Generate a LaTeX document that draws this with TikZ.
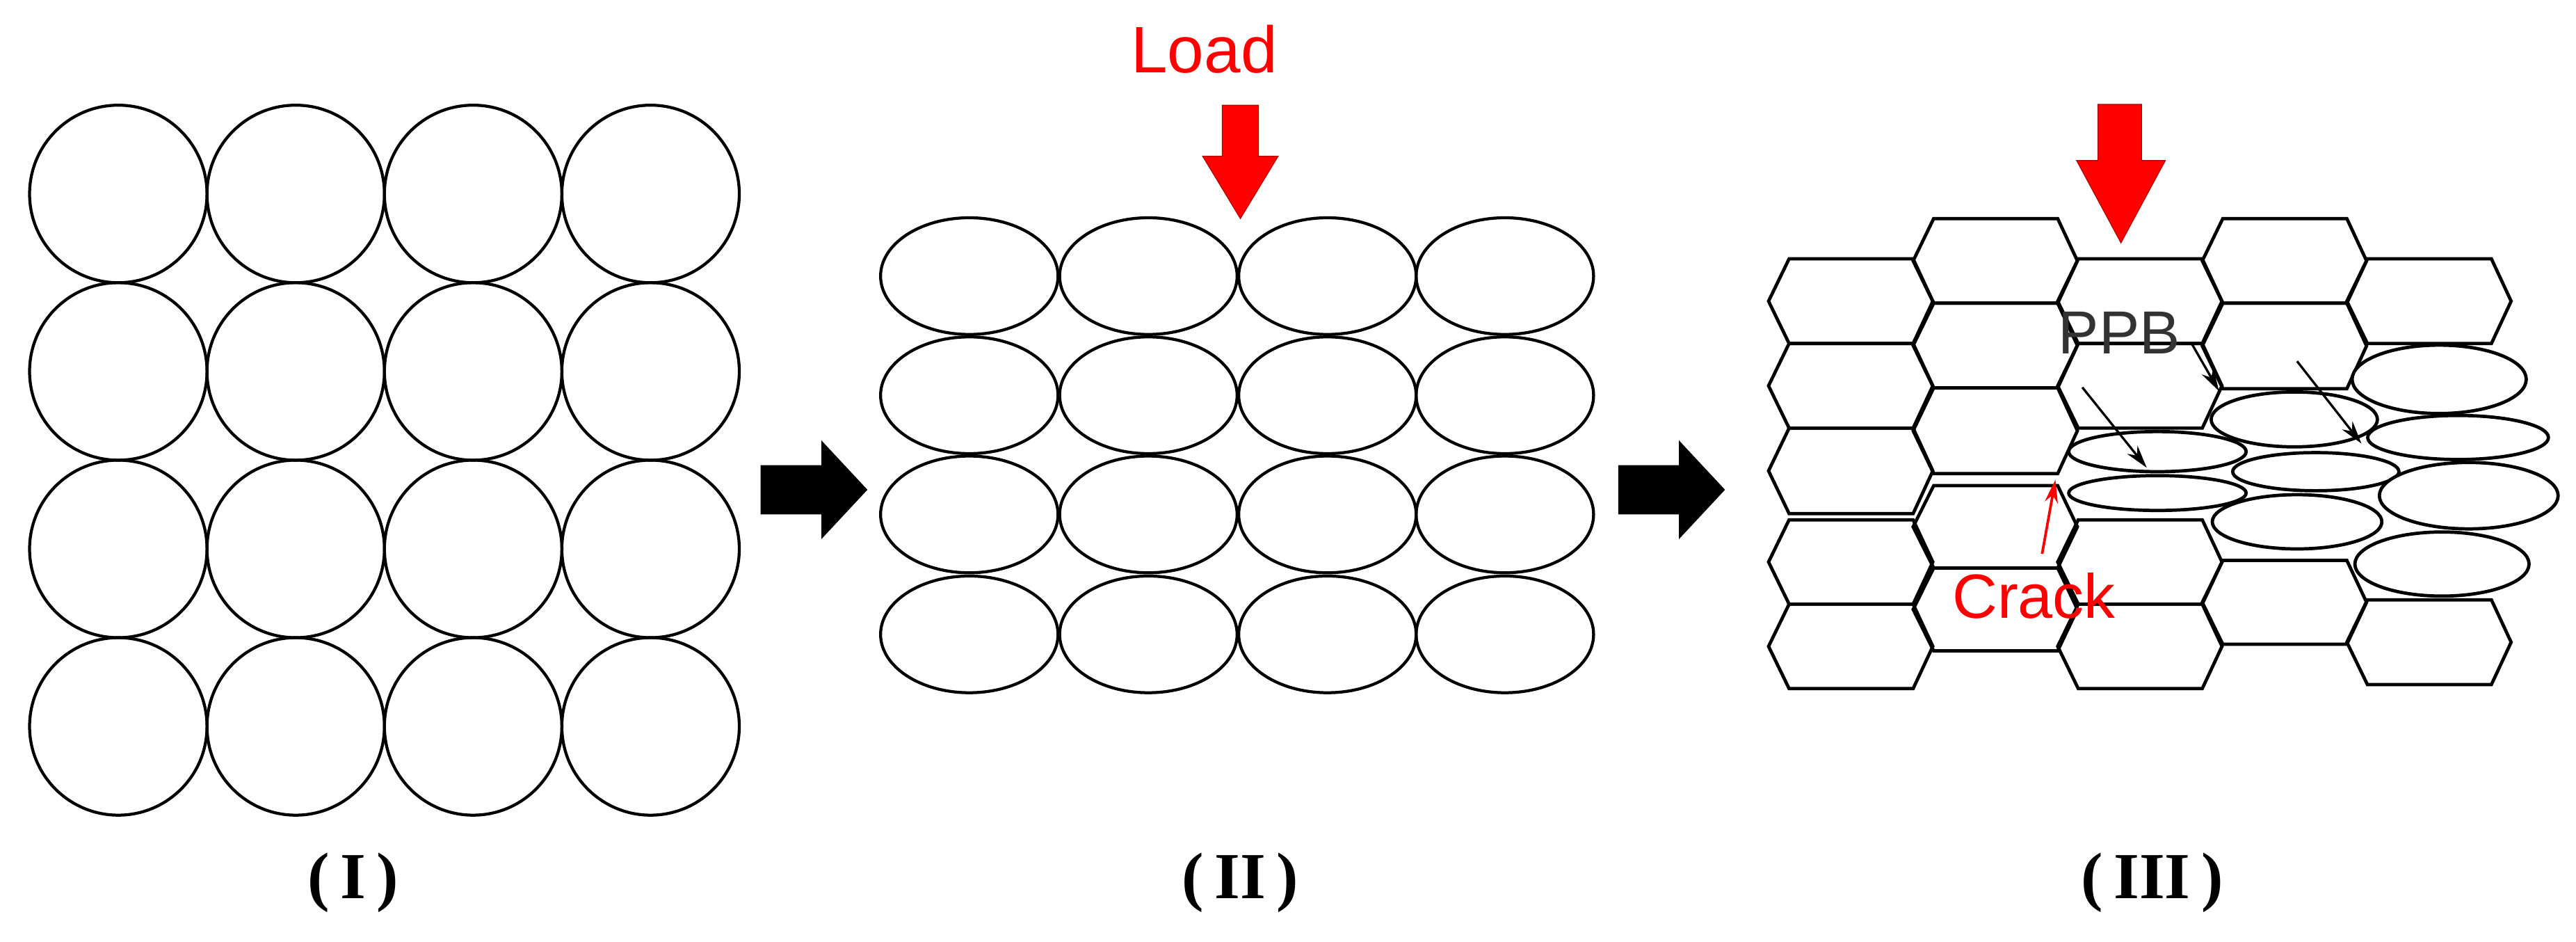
\documentclass[tikz,border=0pt]{standalone}
\usepackage{fontspec}
\setmainfont{Liberation Sans}
\newfontfamily\serifnum{Liberation Serif}
\usetikzlibrary{arrows.meta}
\newcommand\hexcell[3]{%
  \pgfmathsetmacro\xl{1076.5+88*(#1-1)}%
  \pgfmathsetmacro\ym{(#2+#3)/2}%
  \draw[hexline] (\xl+12.5,#2)--(\xl+88,#2)--(\xl+100,\ym)--(\xl+88,#3)--(\xl+12.5,#3)--(\xl,\ym)--cycle;}
\tikzset{
  cell/.style={line width=1.8pt},
  hexline/.style={line width=2pt, line join=miter},
  ell/.style={line width=2pt, fill=white},
  loadarrow/.style={fill=red, draw=red!70!black, line width=0.5pt},
  steparrow/.style={fill=black},
  ptr/.style={line width=1.4pt, -{Stealth[length=14pt,width=8pt]}},
  lbl/.style={font=\serifnum\fontsize{40}{44}\selectfont\bfseries}
}
\begin{document}
\begin{tikzpicture}[x=1pt,y=-1pt]
\useasboundingbox (0,0) rectangle (1568,573);
% Panel I
\foreach \cx in {72,180,288,396}
  \foreach \cy in {118,226,334,442}
    \draw[cell] (\cx,\cy) circle[radius=54];
% Panel II
\foreach \cx in {590,699,808,916}
  \foreach \cy in {168,240.5,313,386}
    \draw[cell] (\cx,\cy) ellipse[x radius=54,y radius=35.5];
% Load arrow II
\draw[loadarrow] (744,64)--(766,64)--(766,95)--(778,95)--(755,133)--(732,95)--(744,95)--cycle;
\node[text=red, font=\fontsize{40}{44}\selectfont] (load) at (733,30) {Load};
% step arrows
\fill[steparrow] (463,283)--(500,283)--(500,268)--(528,298)--(500,328)--(500,313)--(463,313)--cycle;
\fill[steparrow] (985,283)--(1022,283)--(1022,268)--(1050,298)--(1022,328)--(1022,313)--(985,313)--cycle;
% Panel III hexagons
\hexcell{1}{157.5}{209}\hexcell{1}{209}{260.5}\hexcell{1}{260.5}{312.5}\hexcell{1}{316.3}{367.6}\hexcell{1}{367.6}{419}
\hexcell{2}{133}{184.5}\hexcell{2}{184.5}{236}\hexcell{2}{236}{288.2}\hexcell{2}{295.5}{345.6}\hexcell{2}{345.6}{396}
\hexcell{3}{157.5}{209}\hexcell{3}{209}{260.5}\hexcell{3}{316.3}{367.6}\hexcell{3}{367.6}{419}
\hexcell{4}{133}{184.5}\hexcell{4}{184.5}{236.5}\hexcell{4}{341}{392}
\hexcell{5}{157.5}{209}\hexcell{5}{365}{416.5}
% ellipses
\draw[ell] (1313.2,274.8) ellipse[x radius=54,y radius=12.2];
\draw[ell] (1313.2,300) ellipse[x radius=54,y radius=10.6];
\draw[ell] (1396.5,255.2) ellipse[x radius=50.6,y radius=16.7];
\draw[ell] (1409.6,287) ellipse[x radius=50.6,y radius=11.6];
\draw[ell] (1398.2,317.5) ellipse[x radius=51.6,y radius=16.5];
\draw[ell] (1484.7,230.8) ellipse[x radius=53,y radius=20.8];
\draw[ell] (1496.2,266.2) ellipse[x radius=55,y radius=13.4];
\draw[ell] (1502.7,301.6) ellipse[x radius=54.4,y radius=20.2];
\draw[ell] (1486.4,343.2) ellipse[x radius=53,y radius=19.5];
% Load arrow III
\draw[loadarrow] (1277,63.5)--(1303.5,63.5)--(1303.5,97.7)--(1318,97.7)--(1291,147.8)--(1264,97.7)--(1277,97.7)--cycle;
% PPB
\node[text=black!80, font=\fontsize{37}{40}\selectfont] (ppb) at (1290,202.7) {PPB};
\coordinate (a1s) at (1334,209); \coordinate (a1e) at (1350.7,238);
\coordinate (a2s) at (1267.5,235.7); \coordinate (a2e) at (1306.7,284.6);
\coordinate (a3s) at (1398.2,219.8); \coordinate (a3e) at (1437.4,269.9);
\draw[ptr] (a1s)--(a1e);
\draw[ptr] (a2s)--(a2e);
\draw[ptr] (a3s)--(a3e);
% Crack
\node[text=red, font=\fontsize{38}{42}\selectfont] (crack) at (1238,362.7) {Crack};
\coordinate (c1) at (1251.1,291.9);
\draw[ptr, red, line width=1.6pt] (1243,337)--(c1);
% labels
\node[lbl] (l1) at (215,537) {(\,I\,)};
\node[lbl] (l2) at (755,537) {(\,II\,)};
\node[lbl] (l3) at (1310,537) {(\,III\,)};
\end{tikzpicture}
\end{document}
